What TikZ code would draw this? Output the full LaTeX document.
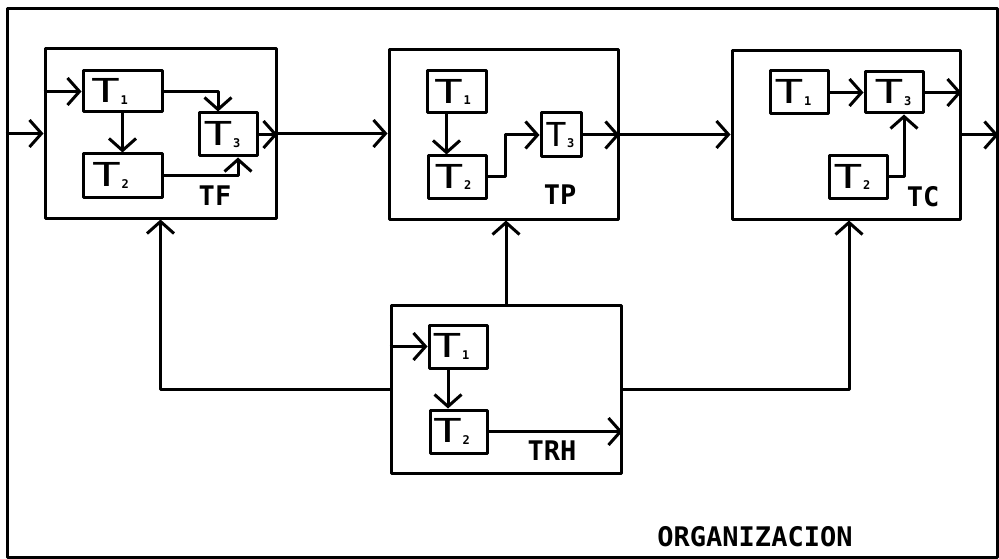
\documentclass[tikz,border=0pt]{standalone}
\usepackage{fontspec}
\usepackage{graphicx}
\usetikzlibrary{arrows.meta,calc}
\newfontfamily\labfont{DejaVu Sans Mono}
\newcommand\tsub[2][1.45]{\scalebox{#1}[1]{T}\kern0.5pt\raisebox{-1.5pt}{\fontsize{12}{12}\selectfont\bfseries #2}}
\begin{document}
\begin{tikzpicture}[x=1pt,y=-1pt, line width=3pt, line join=round,
  box/.style={draw, rectangle, inner sep=0pt, line width=3pt},
  arr/.style={-{Straight Barb[length=12pt,width=27pt]}},
  tlab/.style={font=\labfont\fontsize{33}{33}\selectfont, inner sep=0pt},
  biglab/.style={font=\labfont\bfseries\fontsize{27}{27}\selectfont, inner sep=0pt}]
\useasboundingbox (0,0) rectangle (999,559);
% outer frame
\node[box, minimum width=990pt, minimum height=548pt] (frame) at (502,283) {};
% TF
\node[box, minimum width=231pt, minimum height=169pt] (tf) at (160.5,133.5) {};
\node[box, minimum width=79pt, minimum height=41pt] (tft1) at (122.5,91.5) {};
\node[box, minimum width=79pt, minimum height=43pt] (tft2) at (122.5,175.5) {};
\node[box, minimum width=58pt, minimum height=43pt] (tft3) at (228,134.5) {};
\node[tlab] (ltft1) at ([xshift=-13pt]tft1.center) {\tsub{1}};
\node[tlab] (ltft2) at ([xshift=-12pt]tft2.center) {\tsub{2}};
\node[tlab] (ltft3) at ([xshift=-6pt]tft3.center) {\tsub{3}};
\node[biglab] (ltf) at (215,196) {TF};
% TP
\node[box, minimum width=229pt, minimum height=169pt] (tp) at (503.5,134.5) {};
\node[box, minimum width=59pt, minimum height=42pt] (tpt1) at (456.5,92) {};
\node[box, minimum width=58pt, minimum height=42pt] (tpt2) at (457,177) {};
\node[box, minimum width=40pt, minimum height=44pt] (tpt3) at (561,135) {};
\node[tlab] (ltpt1) at ([xshift=-4pt]tpt1.center) {\tsub{1}};
\node[tlab] (ltpt2) at ([xshift=-4pt]tpt2.center) {\tsub{2}};
\node[tlab] (ltpt3) at ([xshift=-1pt]tpt3.center) {\tsub[1.05]{3}};
\node[biglab] (ltp) at (560,195) {TP};
% TC
\node[box, minimum width=228pt, minimum height=168pt] (tc) at (846,135) {};
\node[box, minimum width=58pt, minimum height=43pt] (tct1) at (799,92.5) {};
\node[box, minimum width=58pt, minimum height=41pt] (tct3) at (894,92.5) {};
\node[box, minimum width=58pt, minimum height=42pt] (tct2) at (858,177) {};
\node[tlab] (ltct1) at ([xshift=-6pt]tct1.center) {\tsub{1}};
\node[tlab] (ltct3) at ([xshift=-1pt]tct3.center) {\tsub{3}};
\node[tlab] (ltct2) at ([xshift=-6pt]tct2.center) {\tsub{2}};
\node[biglab] (ltc) at (923,197) {TC};
% TRH
\node[box, minimum width=230pt, minimum height=168pt] (trh) at (506,389) {};
\node[box, minimum width=58pt, minimum height=43pt] (trht1) at (458,346.5) {};
\node[box, minimum width=57pt, minimum height=43pt] (trht2) at (458.5,431.5) {};
\node[tlab] (ltrht1) at ([xshift=-7pt]trht1.center) {\tsub{1}};
\node[tlab] (ltrht2) at ([xshift=-7pt]trht2.center) {\tsub{2}};
\node[biglab] (ltrh) at (552,451) {TRH};
% title
\node[biglab] (org) at (755,537) {ORGANIZACION};
% connectors TF
\draw[arr] (frame.west |- tf.west) -- (tf.west);
\draw[arr] (tf.west |- tft1.west) -- (tft1.west);
\draw[arr] (tft1.south) -- (tft2.north);
\draw[arr] (tft1.east) -| ([xshift=-10pt]tft3.north);
\draw[arr] (tft2.east) -| ([xshift=10pt]tft3.south);
\draw[arr] (tft3.east) -- (tft3.east -| tf.east);
\draw[arr] (tf.east) -- (tf.east -| tp.west);
% TP
\draw[arr] ([xshift=-10pt]tpt1.south) -- ([xshift=-10pt]tpt1.south |- tpt2.north);
\draw[arr] (tpt2.east) -- ++(18,0) |- (tpt3.west);
\draw[arr] (tpt3.east) -- (tpt3.east -| tp.east);
\draw[arr] (tp.east) -- (tp.east -| tc.west);
% TC
\draw[arr] (tct1.east) -- (tct1.east -| tct3.west);
\draw[arr] (tct3.east) -- (tct3.east -| tc.east);
\draw[arr] (tct2.east) -| ([xshift=10pt]tct3.south);
\draw[arr] (tc.east) -- (tc.east -| frame.east);
% TRH
\draw[arr] (trh.west |- trht1.west) -- (trht1.west);
\draw[arr] ([xshift=-10pt]trht1.south) -- ([xshift=-10pt]trht1.south |- trht2.north);
\draw[arr] (trht2.east) -- (trht2.east -| trh.east);
\draw[arr] (trh.north) -- (trh.north |- tp.south);
\draw[arr] (trh.west) -| (tf.south);
\draw[arr] (trh.east) -| ([xshift=3pt]tc.south);
\end{tikzpicture}
\end{document}
